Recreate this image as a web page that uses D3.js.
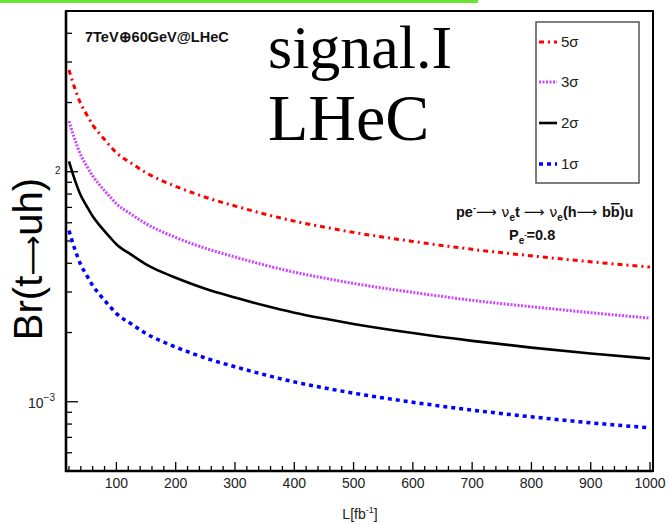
<!DOCTYPE html>
<html><head><meta charset="utf-8">
<script src="https://cdn.jsdelivr.net/npm/d3@7"></script>
<style>body{margin:0;background:#fff}svg{display:block}</style>
</head><body>
<script>
const lumi = [20,30,40,50,60,70,80,90,100,125,150,175,200,250,300,350,400,450,500,600,700,800,900,1000];
const sig5 = [0.0277,0.0230,0.0197,0.0177,0.0160,0.0148,0.0138,0.0129,0.0121,0.0109,0.00990,0.00920,0.00864,0.00775,0.00710,0.00655,0.00610,0.00575,0.00545,0.00498,0.00460,0.00431,0.00406,0.00385];
const sig3 = [0.0166,0.0138,0.0118,0.0106,0.0096,0.00888,0.00828,0.00774,0.00726,0.00654,0.00594,0.00552,0.00518,0.00465,0.00426,0.00393,0.00366,0.00345,0.00327,0.00299,0.00276,0.00259,0.00244,0.00231];
const sig2 = [0.0111,0.0092,0.00788,0.00708,0.0064,0.00592,0.00552,0.00516,0.00484,0.00436,0.00396,0.00368,0.00346,0.0031,0.00284,0.00262,0.00244,0.0023,0.00218,0.00199,0.00184,0.00172,0.00162,0.00154];
const sig1 = [0.00555,0.0046,0.00394,0.00354,0.0032,0.00296,0.00276,0.00258,0.00242,0.00218,0.00198,0.00184,0.00173,0.00155,0.00142,0.00131,0.00122,0.00115,0.00109,0.000995,0.00092,0.00086,0.00081,0.00077];
const seriesNames = ["5σ","3σ","2σ","1σ"];
const xTickValues = [100,200,300,400,500,600,700,800,900,1000];
const xTickLabels = ["100","200","300","400","500","600","700","800","900","1000"];
const yTickValues = [5e-4,6e-4,7e-4,8e-4,9e-4,1e-3,2e-3,3e-3,4e-3,5e-3,6e-3,7e-3,8e-3,9e-3,1e-2,2e-2,3e-2,4e-2];

const W = 670, H = 524;
const f = "Liberation Sans, Arial, sans-serif";
const arrowFont = "DejaVu Sans, sans-serif";
const svg = d3.select("body").append("svg").attr("width", W).attr("height", H);
const x = d3.scaleLinear().domain([15, 1005]).range([66, 653]);
const y = d3.scaleLog().domain([5e-4, 5e-2]).range([471, 11]);

// green bar at top
svg.append("rect").attr("x",0).attr("y",0).attr("width",478).attr("height",3).attr("fill","#66e632");

// frame
svg.append("rect").attr("x",66).attr("y",11).attr("width",587).attr("height",460)
  .attr("fill","none").attr("stroke","#000").attr("stroke-width",2);
svg.append("line").attr("x1",66).attr("x2",66).attr("y1",11).attr("y2",472).attr("stroke","#000").attr("stroke-width",2.6);
svg.append("line").attr("x1",65).attr("x2",653).attr("y1",471).attr("y2",471).attr("stroke","#000").attr("stroke-width",2.6);

// x ticks
const xMinor = d3.range(20, 1001, 20);
svg.append("g").selectAll("line").data(xMinor).join("line")
  .attr("x1", d=>x(d)).attr("x2", d=>x(d))
  .attr("y1", 471).attr("y2", d => d%100===0 ? 462 : 466)
  .attr("stroke","#000").attr("stroke-width",1.3);
svg.append("g").selectAll("text").data(xTickValues).join("text")
  .attr("x", d=>x(d)).attr("y", 488).attr("text-anchor","middle")
  .attr("font-family",f).attr("font-size",14).attr("fill","#222")
  .text((d,i)=>xTickLabels[i]);

// y ticks
svg.append("g").selectAll("line").data(yTickValues).join("line")
  .attr("x1", 66).attr("x2", d => (Math.abs(Math.log10(d) - Math.round(Math.log10(d)))<1e-6) ? 78 : 72)
  .attr("y1", d=>y(d)).attr("y2", d=>y(d))
  .attr("stroke","#000").attr("stroke-width",1.3);

// y tick labels
const t3 = svg.append("text").attr("x",28).attr("y",y(1e-3)+6)
  .attr("font-family",f).attr("font-size",14).attr("fill","#222");
t3.append("tspan").text("10");
t3.append("tspan").attr("dy",-7).attr("font-size",10).text("−3");
svg.append("text").attr("x",55).attr("y",y(1e-2)+2)
  .attr("font-family",f).attr("font-size",10).attr("fill","#222").text("2");

// y axis title
const yt = svg.append("text").attr("transform","translate(42,259) rotate(-90)").attr("text-anchor","middle")
  .attr("font-family",f).attr("font-size",40).attr("fill","#000");
yt.append("tspan").text("Br(t");
yt.append("tspan").attr("font-family",arrowFont).attr("font-weight","normal").attr("font-size",28).text("⟶");
yt.append("tspan").attr("font-size",40).text("uh)");

// x axis title
const xl = svg.append("text").attr("x",360).attr("y",519).attr("text-anchor","middle")
  .attr("font-family",f).attr("font-size",14).attr("fill","#222");
xl.append("tspan").text("L[fb");
xl.append("tspan").attr("dy",-6).attr("font-size",9).text("-1");
xl.append("tspan").attr("dy",6).text("]");

// curves
const styles = [
  {data: sig5, color:"#ff0000", w:3, dash:"5,4,2,4"},
  {data: sig3, color:"#cc44ff", w:3, dash:"2,1.5"},
  {data: sig2, color:"#000000", w:2.6, dash:null},
  {data: sig1, color:"#0000ff", w:3.5, dash:"4,4"}
];
const line = d3.line().x(d=>x(d[0])).y(d=>y(d[1])).curve(d3.curveMonotoneX);
styles.forEach(s => {
  svg.append("path").datum(lumi.map((l,i)=>[l, s.data[i]]))
    .attr("d", line).attr("fill","none").attr("stroke", s.color)
    .attr("stroke-width", s.w).attr("stroke-dasharray", s.dash);
});

// legend
svg.append("rect").attr("x",536).attr("y",22).attr("width",103).attr("height",161)
  .attr("fill","#fff").attr("stroke","#555").attr("stroke-width",1.5);
const legY = [42, 82, 123, 164];
styles.forEach((s,i) => {
  svg.append("line").attr("x1",539).attr("x2",557).attr("y1",legY[i]).attr("y2",legY[i])
    .attr("stroke",s.color).attr("stroke-width",s.w).attr("stroke-dasharray",s.dash);
  svg.append("text").attr("x",561).attr("y",legY[i]+5)
    .attr("font-family",f).attr("font-size",15).attr("fill","#222")
    .text(seriesNames[i]);
});

// top-left label
svg.append("text").attr("x",85).attr("y",42)
  .attr("font-family",f).attr("font-size",14.5).attr("font-weight","bold").attr("fill","#111")
  .text("7TeV⊕60GeV@LHeC");

// big serif text
svg.append("text").attr("x",268).attr("y",68)
  .attr("font-family","Liberation Serif, Times New Roman, serif").attr("font-size",62).attr("fill","#000").text("signal.I");
svg.append("text").attr("x",268).attr("y",140)
  .attr("font-family","Liberation Serif, Times New Roman, serif").attr("font-size",66).attr("fill","#000").text("LHeC");

// process annotation
const a1 = svg.append("text").attr("x",456).attr("y",217)
  .attr("font-family",f).attr("font-size",14.5).attr("font-weight","bold").attr("fill","#111");
a1.append("tspan").text("pe");
a1.append("tspan").attr("dy",-6).attr("font-size",9).text("-");
a1.append("tspan").attr("dy",6).attr("font-family",arrowFont).attr("font-weight","normal").text("⟶ ν");
a1.append("tspan").attr("dy",4).attr("font-size",10).text("e");
a1.append("tspan").attr("dy",-4).text("t ");
a1.append("tspan").attr("font-family",arrowFont).attr("font-weight","normal").text("⟶ ν");
a1.append("tspan").attr("dy",4).attr("font-size",10).text("e");
a1.append("tspan").attr("dy",-4).text("(h");
a1.append("tspan").attr("font-family",arrowFont).attr("font-weight","normal").text("⟶ ");
a1.append("tspan").text("b");
a1.append("tspan").attr("text-decoration","overline").text("b");
a1.append("tspan").text(")u");
const a2 = svg.append("text").attr("x",509).attr("y",240)
  .attr("font-family",f).attr("font-size",14.5).attr("font-weight","bold").attr("fill","#111");
a2.append("tspan").text("P");
a2.append("tspan").attr("dy",4).attr("font-size",10).text("e");
a2.append("tspan").attr("dy",-7).attr("font-size",7).text("-");
a2.append("tspan").attr("dy",3).text("=0.8");
</script>
</body></html>
